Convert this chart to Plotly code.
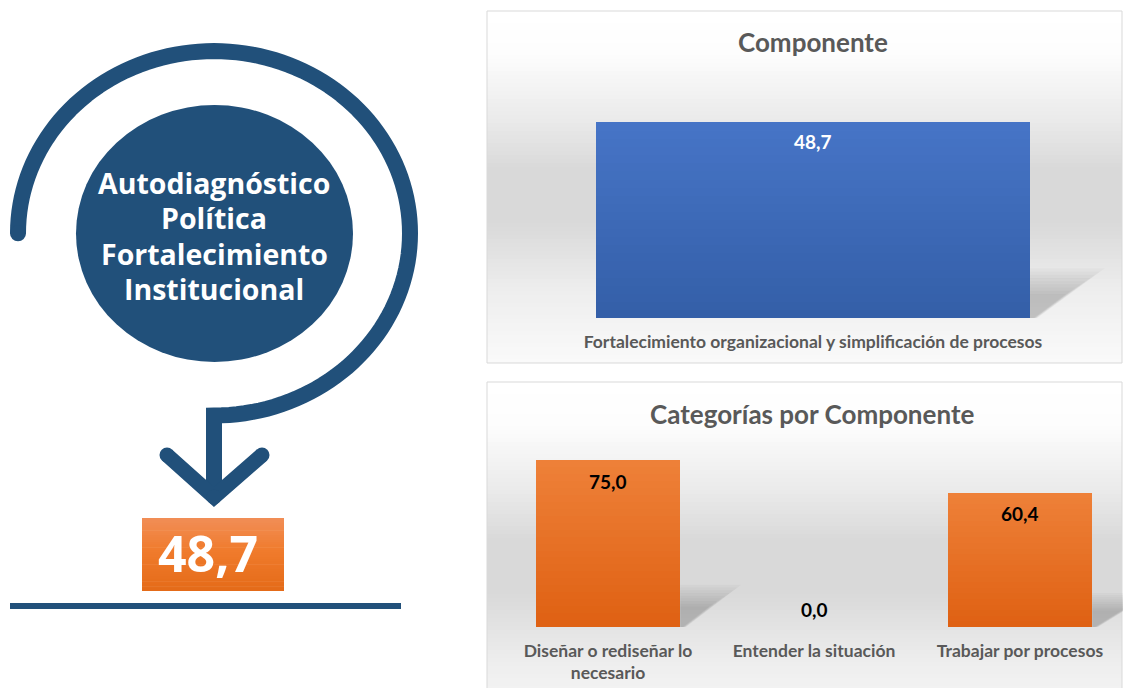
import math
import plotly.graph_objects as go

# ---------------- data ----------------
summary_value = 48.7
circle_lines = ["Autodiagnóstico", "Política", "Fortalecimiento", "Institucional"]

comp_title = "Componente"
comp_categories = ["Fortalecimiento organizacional y simplificación de procesos"]
comp_values = [48.7]

cat_title = "Categorías por Componente"
cat_categories = ["Diseñar o rediseñar lo necesario", "Entender la situación", "Trabajar por procesos"]
cat_ticktext = ["Diseñar o rediseñar lo<br>necesario", "Entender la situación", "Trabajar por procesos"]
cat_values = [75.0, 0.0, 60.4]

# ---------------- helpers ----------------
W, H = 1123, 688
NAVY = "#21507A"
GREY_TXT = "#595959"
FONT = "Lato"


def px(x):
    return x / W


def py(y):
    return 1 - y / H


def hex2rgb(h):
    h = h.lstrip("#")
    return tuple(int(h[i:i + 2], 16) for i in (0, 2, 4))


def interp(stops, t):
    for (t0, c0), (t1, c1) in zip(stops[:-1], stops[1:]):
        if t0 <= t <= t1:
            f = 0 if t1 == t0 else (t - t0) / (t1 - t0)
            a, b = hex2rgb(c0), hex2rgb(c1)
            return "rgb(%d,%d,%d)" % tuple(round(a[i] + (b[i] - a[i]) * f) for i in range(3))
    return stops[-1][1]


def gradient_bands(x0, y0, x1, y1, stops, n, layer="below"):
    out = []
    step = (y1 - y0) / n
    for k in range(n):
        t = (k + 0.5) / n
        out.append(dict(type="rect", xref="paper", yref="paper", layer=layer,
                        x0=px(x0), x1=px(x1), y0=py(min(y1, y0 + (k + 1) * step + 0.6)), y1=py(y0 + k * step),
                        line=dict(width=0), fillcolor=interp(stops, t)))
    return out


def dot(x, y, r, color):
    return dict(type="circle", xref="paper", yref="paper", layer="above",
                x0=px(x - r), x1=px(x + r), y0=py(y + r), y1=py(y - r),
                line=dict(width=0), fillcolor=color)


def fmt(v):
    return ("%.1f" % v).replace(".", ",")


shapes = []

# panel backgrounds (light vertical gradient) and borders
panel_stops = [(0.0, "#FFFFFF"), (0.12, "#FDFDFD"), (0.30, "#EBEBEB"), (0.45, "#D9D9D9"),
               (0.60, "#D9D9D9"), (0.80, "#EEEEEE"), (0.95, "#F7F7F7"), (1.0, "#FAFAFA")]
for (x0, y0, x1, y1) in [(487, 11, 1122, 363), (487, 382, 1122, 734)]:
    shapes += gradient_bands(x0, y0, x1, y1, panel_stops, 88)
    shapes.append(dict(type="rect", xref="paper", yref="paper", layer="below",
                       x0=px(x0), x1=px(x1), y0=py(y1), y1=py(y0),
                       line=dict(color="#D9D9D9", width=1), fillcolor="rgba(0,0,0,0)"))


# soft bar shadows (decorative), positioned in data coordinates
def shadow(xref, yref, i, v, half, tip, hfrac):
    out = []
    n = 9
    for k in range(n):
        s = 1.08 - 0.07 * k
        top = v * hfrac * s
        right = i + half + tip * s
        out.append(dict(type="path", xref=xref, yref=yref, layer="below",
                        path="M %f,%f L %f,%f L %f,%f L %f,%f Z" % (
                            i + half, top, right, top, i + half + tip * 0.1 * s, 0, i + half, 0),
                        line=dict(width=0), fillcolor="rgba(0,0,0,0.022)"))
    return out


for i, v in enumerate(comp_values):
    if v > 0:
        shapes += shadow("x", "y", i, v, 0.35, 0.112, 0.235)
for i, v in enumerate(cat_values):
    if v > 0:
        shapes += shadow("x2", "y2", i, v, 0.35, 0.275, 0.235)

# ---------- left infographic ----------
shapes.append(dict(type="circle", xref="paper", yref="paper", layer="above",
                   x0=px(76), x1=px(353), y0=py(362), y1=py(105),
                   line=dict(width=0), fillcolor=NAVY))

# curved arrow: three-quarter arc + stem
cx, cy, rx, ry = 214, 233.3, 196, 182.2
pts = []
N = 120
for k in range(N + 1):
    th = math.pi + 1.5 * math.pi * k / N
    pts.append((cx + rx * math.cos(th), cy + ry * math.sin(th)))
pts.append((cx, 492))
path = "M " + " L ".join("%f,%f" % (px(x), py(y)) for x, y in pts)
shapes.append(dict(type="path", xref="paper", yref="paper", layer="above", path=path,
                   line=dict(color=NAVY, width=16)))
shapes.append(dot(pts[0][0], pts[0][1], 8, NAVY))
chev = [(167, 455), (214, 497), (262, 455)]
shapes.append(dict(type="path", xref="paper", yref="paper", layer="above",
                   path="M " + " L ".join("%f,%f" % (px(x), py(y)) for x, y in chev),
                   line=dict(color=NAVY, width=15)))
for (x, y) in chev:
    shapes.append(dot(x, y, 7.5, NAVY))

# orange value box
box_stops = [(0.0, "#F18E57"), (0.45, "#F07B2C"), (1.0, "#E46A18")]
shapes += gradient_bands(142, 518, 284, 591, box_stops, 30, layer="above")

# baseline under the box
shapes.append(dict(type="rect", xref="paper", yref="paper", layer="above",
                   x0=px(10), x1=px(401), y0=py(609), y1=py(603),
                   line=dict(width=0), fillcolor=NAVY))

# ---------------- figure ----------------
fig = go.Figure()


def gradient_bars(xaxis, yaxis, cats, vals, top_c, bot_c, n=24):
    for k in range(n):
        frac = 1 - k / n
        col = interp([(0, top_c), (1, bot_c)], k / (n - 1))
        fig.add_trace(go.Bar(x=cats, y=[v * frac for v in vals], xaxis=xaxis, yaxis=yaxis,
                             marker=dict(color=col, line=dict(width=0)), width=0.7,
                             hoverinfo="skip", showlegend=False))


gradient_bars("x", "y", comp_categories, comp_values, "#4674C6", "#345FA8")
gradient_bars("x2", "y2", cat_categories, cat_values, "#EE8038", "#DF6113")

annotations = []
for i, line in enumerate(circle_lines):
    annotations.append(dict(xref="paper", yref="paper", x=px(214), y=py(183 + i * 35.3),
                            text="<b>%s</b>" % line, showarrow=False, xanchor="center", yanchor="middle",
                            font=dict(family="Open Sans", size=28.5, color="white")))
annotations.append(dict(xref="paper", yref="paper", x=px(208), y=py(553),
                        text="<b>%s</b>" % fmt(summary_value), showarrow=False,
                        xanchor="center", yanchor="middle",
                        font=dict(family="Open Sans", size=50, color="white")))
annotations.append(dict(xref="paper", yref="paper", x=px(813), y=py(42), text="<b>%s</b>" % comp_title,
                        showarrow=False, xanchor="center", yanchor="middle",
                        font=dict(family=FONT, size=26, color=GREY_TXT)))
annotations.append(dict(xref="paper", yref="paper", x=px(812), y=py(414), text="<b>%s</b>" % cat_title,
                        showarrow=False, xanchor="center", yanchor="middle",
                        font=dict(family=FONT, size=26, color=GREY_TXT)))
for c, v in zip(comp_categories, comp_values):
    annotations.append(dict(xref="x", yref="y", x=c, y=v, yshift=-20, text="<b>%s</b>" % fmt(v),
                            showarrow=False, xanchor="center", yanchor="middle",
                            font=dict(family=FONT, size=19, color="white")))
for c, v in zip(cat_categories, cat_values):
    annotations.append(dict(xref="x2", yref="y2", x=c, y=v, yshift=(-21 if v > 0 else 18),
                            text="<b>%s</b>" % fmt(v),
                            showarrow=False, xanchor="center", yanchor="middle",
                            font=dict(family=FONT, size=19, color="black")))

axis_font = dict(family=FONT, size=17.5, color=GREY_TXT)
fig.update_layout(
    width=W, height=H, margin=dict(l=0, r=0, t=0, b=0),
    paper_bgcolor="white", plot_bgcolor="rgba(0,0,0,0)",
    barmode="overlay", bargap=0, showlegend=False,
    shapes=shapes, annotations=annotations,
    xaxis=dict(domain=[px(503), 1.0], type="category", range=[-0.5, len(comp_categories) - 0.5],
               showgrid=False, zeroline=False, showline=False,
               ticks="", tickfont=axis_font, tickvals=comp_categories, ticklabelstandoff=11,
               ticktext=["<b>%s</b>" % t for t in comp_categories], fixedrange=True),
    yaxis=dict(domain=[py(318), py(76.5)], range=[0, 60], visible=False, fixedrange=True),
    xaxis2=dict(domain=[px(505), 1.0], type="category", range=[-0.5, len(cat_categories) - 0.5],
                showgrid=False, zeroline=False, showline=False,
                ticks="", tickfont=axis_font, tickvals=cat_categories, ticklabelstandoff=11,
                ticktext=["<b>%s</b>" % t for t in cat_ticktext], anchor="y2", fixedrange=True),
    yaxis2=dict(domain=[py(627), py(449)], range=[0, 80], visible=False, anchor="x2", fixedrange=True),
)

fig.write_html("out.html", config={"displayModeBar": False},
               post_script="document.body.style.margin='0';document.body.style.overflow='hidden';")
